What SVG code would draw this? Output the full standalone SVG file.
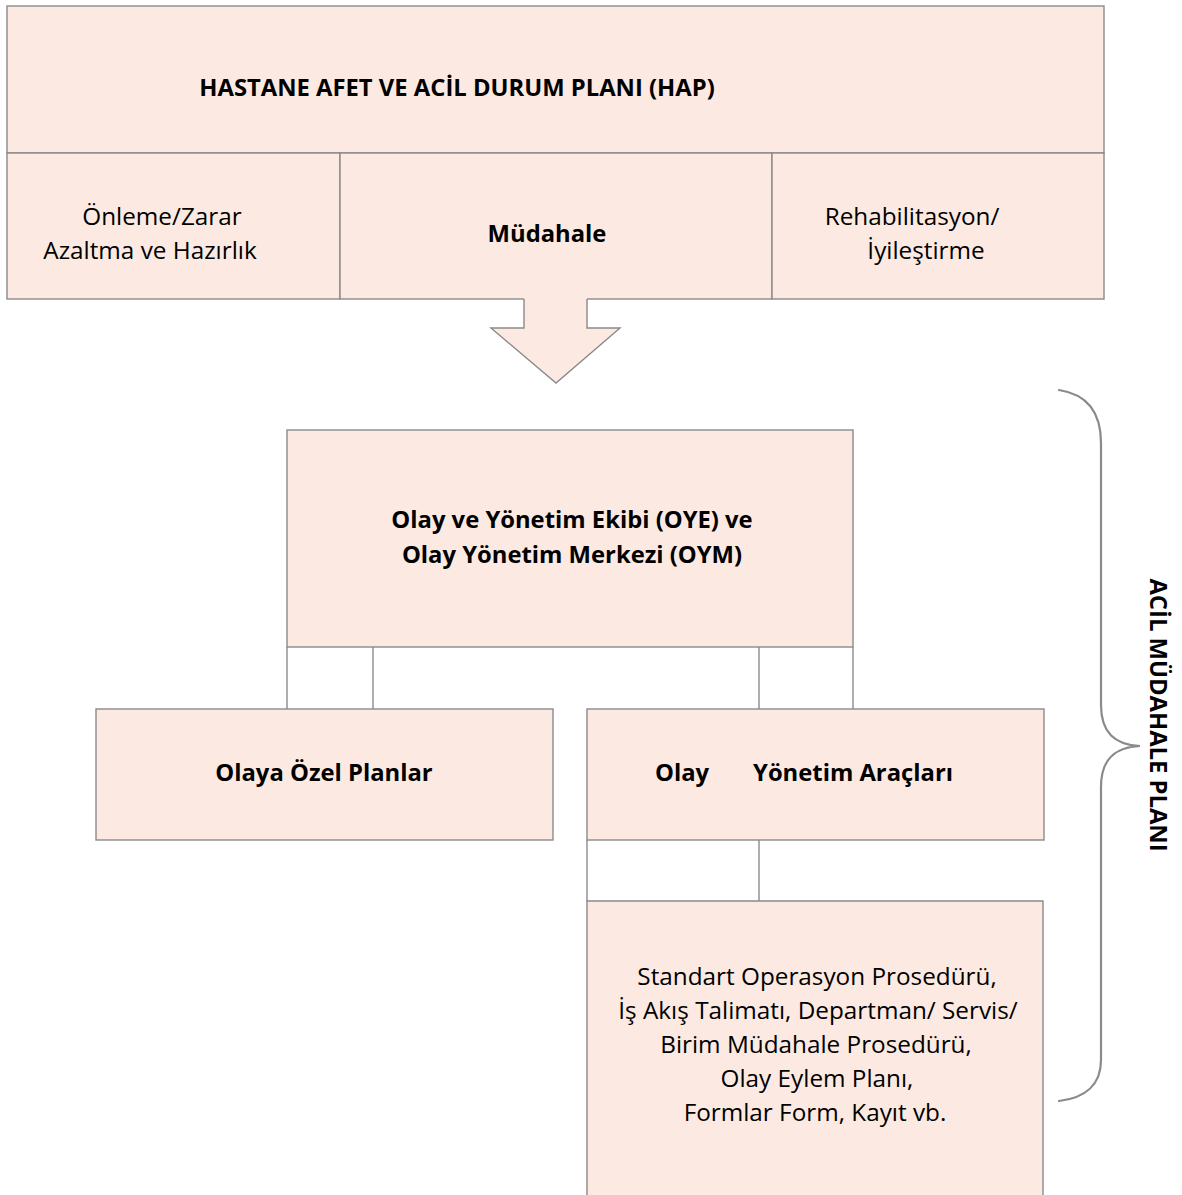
<svg xmlns="http://www.w3.org/2000/svg" width="1182" height="1195" viewBox="0 0 1182 1195">
  <style>
    .box { fill: #fceae2; stroke: #8a8a8a; stroke-width: 1.4; }
    .line { fill: none; stroke: #8a8a8a; stroke-width: 1.4; }
    .brace { fill: none; stroke: #8a8a8a; stroke-width: 2.2; stroke-linecap: round; }
    text { font-family: "Open Sans", Lato, "Liberation Sans", sans-serif; font-size: 24.3px; fill: #000; text-anchor: middle; }
    .b { font-weight: bold; font-size: 23.8px; }
    .s { text-anchor: start; }
    .e { text-anchor: end; }
  </style>
  <rect width="1182" height="1195" fill="#ffffff"/>

  <!-- Hospital disaster plan: title row and three phases -->
  <g id="hap">
    <rect class="box" x="7" y="6" width="1097" height="147"/>
    <text class="b" x="457" y="96">HASTANE AFET VE ACİL DURUM PLANI (HAP)</text>
  </g>
  <g id="onleme">
    <rect class="box" x="7" y="153" width="333" height="146"/>
    <text x="162" y="225">Önleme/Zarar</text>
    <text x="150" y="259">Azaltma ve Hazırlık</text>
  </g>
  <g id="mudahale">
    <rect class="box" x="340" y="153" width="432" height="146"/>
    <text class="b" x="547" y="242">Müdahale</text>
  </g>
  <g id="rehabilitasyon">
    <rect class="box" x="772" y="153" width="332" height="146"/>
    <text x="912" y="225">Rehabilitasyon/</text>
    <text x="926" y="259">İyileştirme</text>
  </g>

  <!-- Block arrow down from the response phase -->
  <g id="arrow">
    <polygon points="524,298 524,328 491,328 556,383 620,328 587,328 587,298" fill="#fceae2"/>
    <polyline class="line" points="524,299 524,328 491,328 556,383 620,328 587,328 587,299"/>
  </g>

  <!-- Connectors -->
  <g id="connectors">
    <line class="line" x1="287" y1="647" x2="287" y2="709"/>
    <line class="line" x1="373" y1="647" x2="373" y2="709"/>
    <line class="line" x1="759" y1="647" x2="759" y2="709"/>
    <line class="line" x1="853" y1="647" x2="853" y2="709"/>
    <line class="line" x1="587" y1="840" x2="587" y2="901"/>
    <line class="line" x1="759" y1="840" x2="759" y2="901"/>
  </g>

  <g id="oye">
    <rect class="box" x="287" y="430" width="566" height="217"/>
    <text class="b" x="572" y="528">Olay ve Yönetim Ekibi (OYE) ve</text>
    <text class="b" x="572" y="563">Olay Yönetim Merkezi (OYM)</text>
  </g>

  <g id="olaya-ozel">
    <rect class="box" x="96" y="709" width="457" height="131"/>
    <text class="b" x="324" y="781">Olaya Özel Planlar</text>
  </g>

  <g id="olay-araclari">
    <rect class="box" x="587" y="709" width="457" height="131"/>
    <text class="b s" x="655" y="781">Olay</text>
    <text class="b e" x="953" y="781">Yönetim Araçları</text>
  </g>

  <g id="prosedurler">
    <path class="box" d="M587,1200 V901 H1043 V1200"/>
    <text x="817" y="985">Standart Operasyon Prosedürü,</text>
    <text x="818" y="1019">İş Akış Talimatı, Departman/ Servis/</text>
    <text x="816" y="1053">Birim Müdahale Prosedürü,</text>
    <text x="817" y="1087">Olay Eylem Planı,</text>
    <text x="815" y="1121">Formlar Form, Kayıt vb.</text>
  </g>

  <!-- Brace grouping the emergency response plan -->
  <g id="acil-mudahale-plani">
    <path class="brace" d="M1059,390 C1085,394 1101,410 1101,443 L1101,705 C1101,733 1115,745 1140,746 C1115,747 1101,759 1101,787 L1101,1060 C1101,1085 1085,1098 1059,1101"/>
    <text class="b" transform="translate(1150,715) rotate(90)">ACİL MÜDAHALE PLANI</text>
  </g>
</svg>
